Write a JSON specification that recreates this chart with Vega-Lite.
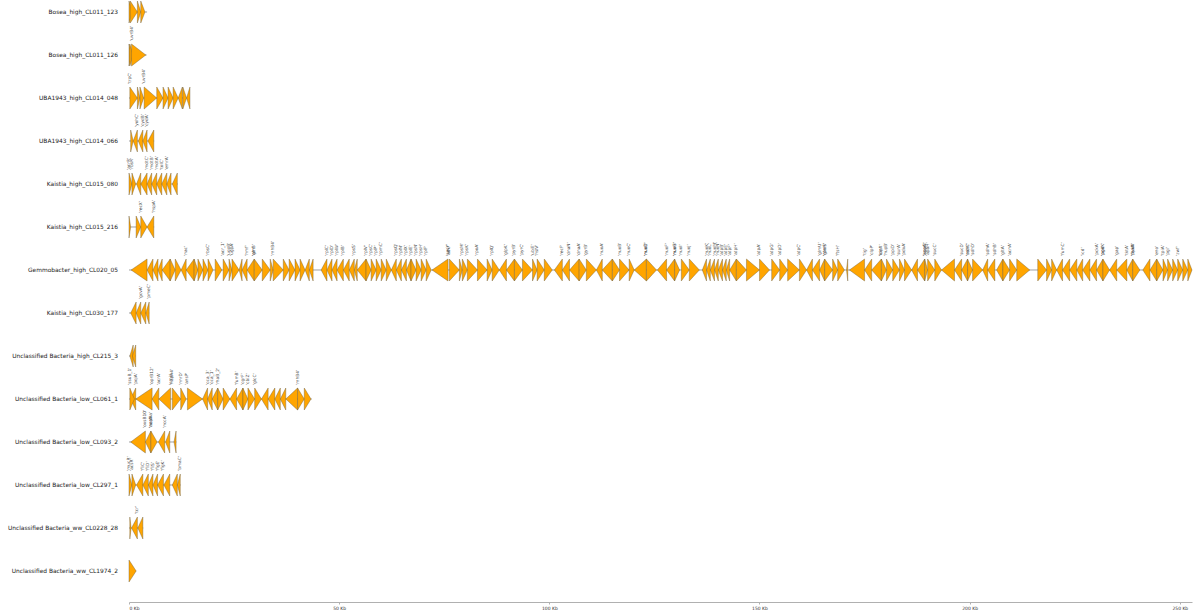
{
"$schema": "https://vega.github.io/schema/vega-lite/v6.json",
"background": "white",
"padding": {"left": 7, "top": 0, "right": 4, "bottom": 4},
"bounds": "flush",
"config": {"view": {"stroke": null}, "font": "DejaVu Sans"},
"data": {"values": [
{"c":"Bosea_high_CL011_123","k":"contig","f":0,"t":4.3},
{"c":"Bosea_high_CL011_126","k":"contig","f":0,"t":4.2},
{"c":"UBA1943_high_CL014_048","k":"contig","f":0,"t":14.5},
{"c":"UBA1943_high_CL014_066","k":"contig","f":0,"t":6.0},
{"c":"Kaistia_high_CL015_080","k":"contig","f":0,"t":11.6},
{"c":"Kaistia_high_CL015_216","k":"contig","f":0,"t":6.0},
{"c":"Gemmobacter_high_CL020_05","k":"contig","f":0,"t":252.9},
{"c":"Kaistia_high_CL030_177","k":"contig","f":0,"t":4.8},
{"c":"Unclassified Bacteria_high_CL215_3","k":"contig","f":0,"t":1.6},
{"c":"Unclassified Bacteria_low_CL061_1","k":"contig","f":0,"t":43.5},
{"c":"Unclassified Bacteria_low_CL093_2","k":"contig","f":0,"t":11.3},
{"c":"Unclassified Bacteria_low_CL297_1","k":"contig","f":0,"t":12.3},
{"c":"Unclassified Bacteria_ww_CL0228_28","k":"contig","f":0,"t":3.4},
{"c":"Unclassified Bacteria_ww_CL1974_2","k":"contig","f":0,"t":1.7},

{"c":"Bosea_high_CL011_123","f":0,"t":0.8},
{"c":"Bosea_high_CL011_123","f":0.3,"t":2.0},
{"c":"Bosea_high_CL011_123","f":2.0,"t":2.8},
{"c":"Bosea_high_CL011_123","f":2.8,"t":3.8},

{"c":"Bosea_high_CL011_126","f":0,"t":0.6},
{"c":"Bosea_high_CL011_126","f":0.2,"t":1.0},
{"c":"Bosea_high_CL011_126","f":0.6,"t":4.0,"n":"'uvrB4'"},

{"c":"UBA1943_high_CL014_048","f":0.2,"t":2.0,"n":"'trpC'"},
{"c":"UBA1943_high_CL014_048","f":2.0,"t":2.6},
{"c":"UBA1943_high_CL014_048","f":2.6,"t":3.5},
{"c":"UBA1943_high_CL014_048","f":3.6,"t":6.6,"n":"'uvrB4'"},
{"c":"UBA1943_high_CL014_048","f":6.6,"t":8.1},
{"c":"UBA1943_high_CL014_048","f":8.1,"t":9.3},
{"c":"UBA1943_high_CL014_048","f":9.3,"t":10.5},
{"c":"UBA1943_high_CL014_048","f":10.5,"t":11.7},
{"c":"UBA1943_high_CL014_048","f":12.7,"t":11.7},
{"c":"UBA1943_high_CL014_048","f":12.8,"t":13.7},
{"c":"UBA1943_high_CL014_048","f":14.5,"t":13.7},

{"c":"UBA1943_high_CL014_066","f":0.4,"t":1.0},
{"c":"UBA1943_high_CL014_066","f":2.0,"t":1.0,"n":"'yohC'"},
{"c":"UBA1943_high_CL014_066","f":3.3,"t":2.2,"n":"'cydB'"},
{"c":"UBA1943_high_CL014_066","f":4.3,"t":3.3,"n":"'cydA'"},
{"c":"UBA1943_high_CL014_066","f":5.9,"t":4.5},

{"c":"Kaistia_high_CL015_080","f":0,"t":0.7,"n":"'acrR'"},
{"c":"Kaistia_high_CL015_080","f":0.7,"t":1.6,"n":"'rbsR'"},
{"c":"Kaistia_high_CL015_080","f":2.8,"t":1.8},
{"c":"Kaistia_high_CL015_080","f":4.3,"t":2.8,"n":"'mdtC'"},
{"c":"Kaistia_high_CL015_080","f":5.4,"t":4.3,"n":"'mdtB'"},
{"c":"Kaistia_high_CL015_080","f":6.6,"t":5.4,"n":"'mdtA'"},
{"c":"Kaistia_high_CL015_080","f":7.8,"t":6.6,"n":"'tolC'"},
{"c":"Kaistia_high_CL015_080","f":9.0,"t":7.8,"n":"'emrA'"},
{"c":"Kaistia_high_CL015_080","f":10.0,"t":9.0},
{"c":"Kaistia_high_CL015_080","f":11.5,"t":10.3},

{"c":"Kaistia_high_CL015_216","f":0,"t":0.4},
{"c":"Kaistia_high_CL015_216","f":1.7,"t":2.8},
{"c":"Kaistia_high_CL015_216","f":2.8,"t":4.3,"n":"'recX'"},
{"c":"Kaistia_high_CL015_216","f":5.9,"t":4.3,"n":"'hspA'"},

{"c":"Gemmobacter_high_CL020_05","f":4.3,"t":0.5},
{"c":"Gemmobacter_high_CL020_05","f":5.7,"t":4.3},
{"c":"Gemmobacter_high_CL020_05","f":6.9,"t":5.7},
{"c":"Gemmobacter_high_CL020_05","f":7.9,"t":6.9},
{"c":"Gemmobacter_high_CL020_05","f":9.8,"t":7.9},
{"c":"Gemmobacter_high_CL020_05","f":9.8,"t":11.0},
{"c":"Gemmobacter_high_CL020_05","f":11.0,"t":12.4},
{"c":"Gemmobacter_high_CL020_05","f":13.6,"t":12.4,"n":"'nac'"},
{"c":"Gemmobacter_high_CL020_05","f":15.5,"t":13.6},
{"c":"Gemmobacter_high_CL020_05","f":15.5,"t":16.4},
{"c":"Gemmobacter_high_CL020_05","f":16.4,"t":17.6},
{"c":"Gemmobacter_high_CL020_05","f":17.6,"t":18.8},
{"c":"Gemmobacter_high_CL020_05","f":18.8,"t":20.0,"n":"'rbsC'"},
{"c":"Gemmobacter_high_CL020_05","f":20.5,"t":22.1},
{"c":"Gemmobacter_high_CL020_05","f":22.4,"t":23.8,"n":"'acr_1'"},
{"c":"Gemmobacter_high_CL020_05","f":23.8,"t":24.5,"n":"'ugpB'"},
{"c":"Gemmobacter_high_CL020_05","f":24.5,"t":26.2,"n":"'ugpA'"},
{"c":"Gemmobacter_high_CL020_05","f":26.9,"t":26.2},
{"c":"Gemmobacter_high_CL020_05","f":28.1,"t":26.9,"n":"'hmf'"},
{"c":"Gemmobacter_high_CL020_05","f":29.8,"t":28.1,"n":"'ahr'"},
{"c":"Gemmobacter_high_CL020_05","f":29.8,"t":31.7,"n":"'glnB'"},
{"c":"Gemmobacter_high_CL020_05","f":31.7,"t":33.6},
{"c":"Gemmobacter_high_CL020_05","f":33.6,"t":34.3},
{"c":"Gemmobacter_high_CL020_05","f":34.3,"t":36.7,"n":"'rnhB4'"},
{"c":"Gemmobacter_high_CL020_05","f":36.7,"t":38.1},
{"c":"Gemmobacter_high_CL020_05","f":38.1,"t":39.5},
{"c":"Gemmobacter_high_CL020_05","f":39.5,"t":40.7},
{"c":"Gemmobacter_high_CL020_05","f":40.7,"t":41.9},
{"c":"Gemmobacter_high_CL020_05","f":42.9,"t":41.9},
{"c":"Gemmobacter_high_CL020_05","f":43.8,"t":42.9},
{"c":"Gemmobacter_high_CL020_05","f":47.1,"t":45.7,"n":"'rplC'"},
{"c":"Gemmobacter_high_CL020_05","f":48.3,"t":47.1,"n":"'rplD'"},
{"c":"Gemmobacter_high_CL020_05","f":49.5,"t":48.3,"n":"'rplW'"},
{"c":"Gemmobacter_high_CL020_05","f":51.0,"t":49.5,"n":"'rplB'"},
{"c":"Gemmobacter_high_CL020_05","f":52.4,"t":51.0},
{"c":"Gemmobacter_high_CL020_05","f":53.6,"t":52.4,"n":"'rpsS'"},
{"c":"Gemmobacter_high_CL020_05","f":54.3,"t":53.6},
{"c":"Gemmobacter_high_CL020_05","f":56.4,"t":54.3,"n":"'rplV'"},
{"c":"Gemmobacter_high_CL020_05","f":56.4,"t":57.6},
{"c":"Gemmobacter_high_CL020_05","f":57.6,"t":58.8,"n":"'rpsC'"},
{"c":"Gemmobacter_high_CL020_05","f":58.8,"t":60.0,"n":"'rplP'"},
{"c":"Gemmobacter_high_CL020_05","f":60.0,"t":61.2,"n":"'rpmC'"},
{"c":"Gemmobacter_high_CL020_05","f":61.2,"t":62.4},
{"c":"Gemmobacter_high_CL020_05","f":63.6,"t":62.4,"n":"'rpsQ'"},
{"c":"Gemmobacter_high_CL020_05","f":64.8,"t":63.6,"n":"'rplN'"},
{"c":"Gemmobacter_high_CL020_05","f":66.0,"t":64.8,"n":"'rplX'"},
{"c":"Gemmobacter_high_CL020_05","f":67.1,"t":66.0},
{"c":"Gemmobacter_high_CL020_05","f":67.1,"t":68.3,"n":"'rplE'"},
{"c":"Gemmobacter_high_CL020_05","f":68.3,"t":69.5,"n":"'rpsN'"},
{"c":"Gemmobacter_high_CL020_05","f":69.5,"t":70.7,"n":"'rpsH'"},
{"c":"Gemmobacter_high_CL020_05","f":70.7,"t":71.9,"n":"'rplF'"},
{"c":"Gemmobacter_high_CL020_05","f":75.9,"t":72.1,"n":"'secY'"},
{"c":"Gemmobacter_high_CL020_05","f":76.2,"t":78.6,"n":"'adk'"},
{"c":"Gemmobacter_high_CL020_05","f":78.6,"t":79.3},
{"c":"Gemmobacter_high_CL020_05","f":79.3,"t":80.5,"n":"'rpsM'"},
{"c":"Gemmobacter_high_CL020_05","f":80.5,"t":82.9,"n":"'rpsK'"},
{"c":"Gemmobacter_high_CL020_05","f":82.9,"t":85.2,"n":"'rpoA'"},
{"c":"Gemmobacter_high_CL020_05","f":85.2,"t":86.4},
{"c":"Gemmobacter_high_CL020_05","f":86.4,"t":88.1,"n":"'rplQ'"},
{"c":"Gemmobacter_high_CL020_05","f":89.8,"t":88.1,"n":"'glpK'"},
{"c":"Gemmobacter_high_CL020_05","f":91.7,"t":89.8},
{"c":"Gemmobacter_high_CL020_05","f":91.7,"t":93.6,"n":"'pyrB'"},
{"c":"Gemmobacter_high_CL020_05","f":93.6,"t":96.0,"n":"'pyrC'"},
{"c":"Gemmobacter_high_CL020_05","f":96.0,"t":97.1,"n":"'ubiE'"},
{"c":"Gemmobacter_high_CL020_05","f":97.1,"t":98.8,"n":"'hslV'"},
{"c":"Gemmobacter_high_CL020_05","f":98.8,"t":100.7},
{"c":"Gemmobacter_high_CL020_05","f":103.1,"t":101.2,"n":"'recF'"},
{"c":"Gemmobacter_high_CL020_05","f":104.8,"t":103.1,"n":"'dnaN'"},
{"c":"Gemmobacter_high_CL020_05","f":107.1,"t":104.8,"n":"'dnaA'"},
{"c":"Gemmobacter_high_CL020_05","f":107.1,"t":108.8},
{"c":"Gemmobacter_high_CL020_05","f":108.8,"t":111.2,"n":"'gyrB'"},
{"c":"Gemmobacter_high_CL020_05","f":112.6,"t":111.2,"n":"'nuoA'"},
{"c":"Gemmobacter_high_CL020_05","f":115.0,"t":112.6},
{"c":"Gemmobacter_high_CL020_05","f":115.0,"t":116.7},
{"c":"Gemmobacter_high_CL020_05","f":116.7,"t":119.0,"n":"'nuoB'"},
{"c":"Gemmobacter_high_CL020_05","f":119.0,"t":120.2,"n":"'nuoC'"},
{"c":"Gemmobacter_high_CL020_05","f":123.1,"t":120.2,"n":"'nuoD'"},
{"c":"Gemmobacter_high_CL020_05","f":123.1,"t":125.5,"n":"'nuoE'"},
{"c":"Gemmobacter_high_CL020_05","f":127.9,"t":125.7,"n":"'nuoF'"},
{"c":"Gemmobacter_high_CL020_05","f":129.8,"t":127.9,"n":"'nuoG'"},
{"c":"Gemmobacter_high_CL020_05","f":129.8,"t":131.0,"n":"'nuoH'"},
{"c":"Gemmobacter_high_CL020_05","f":131.4,"t":133.3,"n":"'nuoI'"},
{"c":"Gemmobacter_high_CL020_05","f":133.3,"t":135.7,"n":"'nuoJ'"},
{"c":"Gemmobacter_high_CL020_05","f":137.4,"t":136.4,"n":"'nuoK'"},
{"c":"Gemmobacter_high_CL020_05","f":138.3,"t":137.4,"n":"'nuoL'"},
{"c":"Gemmobacter_high_CL020_05","f":139.3,"t":138.3,"n":"'nuoM'"},
{"c":"Gemmobacter_high_CL020_05","f":140.2,"t":139.3,"n":"'nuoN'"},
{"c":"Gemmobacter_high_CL020_05","f":141.2,"t":140.2,"n":"'atpB'"},
{"c":"Gemmobacter_high_CL020_05","f":142.1,"t":141.2,"n":"'atpE'"},
{"c":"Gemmobacter_high_CL020_05","f":142.9,"t":142.1,"n":"'atpF'"},
{"c":"Gemmobacter_high_CL020_05","f":144.5,"t":142.9},
{"c":"Gemmobacter_high_CL020_05","f":144.5,"t":146.9,"n":"'atpH'"},
{"c":"Gemmobacter_high_CL020_05","f":146.9,"t":150.0},
{"c":"Gemmobacter_high_CL020_05","f":150.0,"t":152.4,"n":"'atpA'"},
{"c":"Gemmobacter_high_CL020_05","f":152.9,"t":154.8,"n":"'atpG'"},
{"c":"Gemmobacter_high_CL020_05","f":154.8,"t":156.7,"n":"'atpD'"},
{"c":"Gemmobacter_high_CL020_05","f":156.7,"t":159.5},
{"c":"Gemmobacter_high_CL020_05","f":159.5,"t":161.2,"n":"'atpC'"},
{"c":"Gemmobacter_high_CL020_05","f":162.6,"t":161.2},
{"c":"Gemmobacter_high_CL020_05","f":164.3,"t":162.6,"n":"'glmU'"},
{"c":"Gemmobacter_high_CL020_05","f":165.5,"t":164.3,"n":"'glmS'"},
{"c":"Gemmobacter_high_CL020_05","f":165.5,"t":167.4,"n":"'rpoH'"},
{"c":"Gemmobacter_high_CL020_05","f":167.4,"t":168.6},
{"c":"Gemmobacter_high_CL020_05","f":168.6,"t":170.2,"n":"'ftsH'"},
{"c":"Gemmobacter_high_CL020_05","f":171.0,"t":170.7},
{"c":"Gemmobacter_high_CL020_05","f":175.0,"t":171.4,"n":"'tig'"},
{"c":"Gemmobacter_high_CL020_05","f":176.7,"t":175.0,"n":"'clpP'"},
{"c":"Gemmobacter_high_CL020_05","f":179.0,"t":176.7,"n":"'clpX'"},
{"c":"Gemmobacter_high_CL020_05","f":179.0,"t":180.2,"n":"'lon'"},
{"c":"Gemmobacter_high_CL020_05","f":180.2,"t":181.7,"n":"'hupB'"},
{"c":"Gemmobacter_high_CL020_05","f":181.7,"t":183.3,"n":"'ppiD'"},
{"c":"Gemmobacter_high_CL020_05","f":183.3,"t":184.5,"n":"'surA'"},
{"c":"Gemmobacter_high_CL020_05","f":184.5,"t":186.2,"n":"'pdxA'"},
{"c":"Gemmobacter_high_CL020_05","f":187.6,"t":186.2},
{"c":"Gemmobacter_high_CL020_05","f":189.3,"t":187.6,"n":"'ksgA'"},
{"c":"Gemmobacter_high_CL020_05","f":189.3,"t":190.0,"n":"'apaG'"},
{"c":"Gemmobacter_high_CL020_05","f":190.0,"t":191.7,"n":"'apaH'"},
{"c":"Gemmobacter_high_CL020_05","f":191.7,"t":193.3,"n":"'sucC'"},
{"c":"Gemmobacter_high_CL020_05","f":196.4,"t":193.3},
{"c":"Gemmobacter_high_CL020_05","f":198.1,"t":196.4,"n":"'sucD'"},
{"c":"Gemmobacter_high_CL020_05","f":199.5,"t":198.1,"n":"'mdh'"},
{"c":"Gemmobacter_high_CL020_05","f":199.5,"t":200.7,"n":"'sdhC'"},
{"c":"Gemmobacter_high_CL020_05","f":200.7,"t":203.1,"n":"'sdhD'"},
{"c":"Gemmobacter_high_CL020_05","f":204.3,"t":203.1,"n":"'sdhA'"},
{"c":"Gemmobacter_high_CL020_05","f":206.0,"t":204.3,"n":"'sdhB'"},
{"c":"Gemmobacter_high_CL020_05","f":207.9,"t":206.4},
{"c":"Gemmobacter_high_CL020_05","f":207.9,"t":209.5,"n":"'gltA'"},
{"c":"Gemmobacter_high_CL020_05","f":209.5,"t":211.2,"n":"'acnA'"},
{"c":"Gemmobacter_high_CL020_05","f":211.2,"t":214.3},
{"c":"Gemmobacter_high_CL020_05","f":216.2,"t":218.3},
{"c":"Gemmobacter_high_CL020_05","f":218.3,"t":219.5},
{"c":"Gemmobacter_high_CL020_05","f":219.5,"t":220.7},
{"c":"Gemmobacter_high_CL020_05","f":222.1,"t":220.7,"n":"'fumC'"},
{"c":"Gemmobacter_high_CL020_05","f":223.8,"t":222.1},
{"c":"Gemmobacter_high_CL020_05","f":225.5,"t":223.8},
{"c":"Gemmobacter_high_CL020_05","f":226.9,"t":225.5,"n":"'icd'"},
{"c":"Gemmobacter_high_CL020_05","f":228.6,"t":226.9},
{"c":"Gemmobacter_high_CL020_05","f":230.2,"t":228.6,"n":"'pckA'"},
{"c":"Gemmobacter_high_CL020_05","f":231.7,"t":230.2,"n":"'ppdK'"},
{"c":"Gemmobacter_high_CL020_05","f":231.7,"t":233.3,"n":"'pgk'"},
{"c":"Gemmobacter_high_CL020_05","f":235.0,"t":233.3,"n":"'gap'"},
{"c":"Gemmobacter_high_CL020_05","f":237.4,"t":235.0,"n":"'tktA'"},
{"c":"Gemmobacter_high_CL020_05","f":238.8,"t":237.4,"n":"'fbaA'"},
{"c":"Gemmobacter_high_CL020_05","f":238.8,"t":240.5,"n":"'pykA'"},
{"c":"Gemmobacter_high_CL020_05","f":242.9,"t":241.2},
{"c":"Gemmobacter_high_CL020_05","f":244.5,"t":242.9},
{"c":"Gemmobacter_high_CL020_05","f":244.5,"t":246.0,"n":"'eno'"},
{"c":"Gemmobacter_high_CL020_05","f":246.0,"t":247.1,"n":"'tpiA'"},
{"c":"Gemmobacter_high_CL020_05","f":247.1,"t":248.3,"n":"'pgi'"},
{"c":"Gemmobacter_high_CL020_05","f":248.3,"t":249.5},
{"c":"Gemmobacter_high_CL020_05","f":249.5,"t":250.7,"n":"'zwf'"},
{"c":"Gemmobacter_high_CL020_05","f":250.7,"t":251.9},
{"c":"Gemmobacter_high_CL020_05","f":251.9,"t":252.9},

{"c":"Kaistia_high_CL030_177","f":1.7,"t":0.4},
{"c":"Kaistia_high_CL030_177","f":2.8,"t":1.7,"n":"'gcvA'"},
{"c":"Kaistia_high_CL030_177","f":4.0,"t":2.8},
{"c":"Kaistia_high_CL030_177","f":4.8,"t":4.0,"n":"'pmeC'"},

{"c":"Unclassified Bacteria_high_CL215_3","f":1.0,"t":0.2},
{"c":"Unclassified Bacteria_high_CL215_3","f":1.6,"t":0.8},

{"c":"Unclassified Bacteria_low_CL061_1","f":1.6,"t":0.4,"n":"'pqiA'"},
{"c":"Unclassified Bacteria_low_CL061_1","f":0.2,"t":1.3,"n":"'ssuB_1'"},
{"c":"Unclassified Bacteria_low_CL061_1","f":5.5,"t":1.6,"n":"'oprB12'"},
{"c":"Unclassified Bacteria_low_CL061_1","f":7.1,"t":5.5,"n":"'acrA'"},
{"c":"Unclassified Bacteria_low_CL061_1","f":9.9,"t":7.1,"n":"'cmk'"},
{"c":"Unclassified Bacteria_low_CL061_1","f":10.3,"t":12.3,"n":"'napA4'"},
{"c":"Unclassified Bacteria_low_CL061_1","f":12.3,"t":13.6,"n":"'nnrD'"},
{"c":"Unclassified Bacteria_low_CL061_1","f":13.9,"t":17.5,"n":"'ansP'"},
{"c":"Unclassified Bacteria_low_CL061_1","f":18.7,"t":17.5,"n":"'cca_3'"},
{"c":"Unclassified Bacteria_low_CL061_1","f":19.8,"t":18.7,"n":"'cca_1'"},
{"c":"Unclassified Bacteria_low_CL061_1","f":21.1,"t":19.8},
{"c":"Unclassified Bacteria_low_CL061_1","f":21.1,"t":22.4,"n":"'rhaB_2'"},
{"c":"Unclassified Bacteria_low_CL061_1","f":22.4,"t":24.0},
{"c":"Unclassified Bacteria_low_CL061_1","f":25.6,"t":24.0,"n":"'fumB'"},
{"c":"Unclassified Bacteria_low_CL061_1","f":27.1,"t":25.6,"n":"'cgrF'"},
{"c":"Unclassified Bacteria_low_CL061_1","f":27.1,"t":28.3},
{"c":"Unclassified Bacteria_low_CL061_1","f":28.3,"t":29.9,"n":"'cbiZ'"},
{"c":"Unclassified Bacteria_low_CL061_1","f":29.9,"t":31.5,"n":"'glcC'"},
{"c":"Unclassified Bacteria_low_CL061_1","f":33.1,"t":31.5},
{"c":"Unclassified Bacteria_low_CL061_1","f":34.7,"t":33.1},
{"c":"Unclassified Bacteria_low_CL061_1","f":36.0,"t":34.7},
{"c":"Unclassified Bacteria_low_CL061_1","f":37.3,"t":36.0},
{"c":"Unclassified Bacteria_low_CL061_1","f":40.1,"t":37.3,"n":"'rnhB4'"},
{"c":"Unclassified Bacteria_low_CL061_1","f":40.1,"t":41.7},
{"c":"Unclassified Bacteria_low_CL061_1","f":41.7,"t":43.3},

{"c":"Unclassified Bacteria_low_CL093_2","f":3.9,"t":0.4,"n":"'oxsB10'"},
{"c":"Unclassified Bacteria_low_CL093_2","f":5.2,"t":3.9,"n":"'acrA'"},
{"c":"Unclassified Bacteria_low_CL093_2","f":5.2,"t":6.7,"n":"'napAa'"},
{"c":"Unclassified Bacteria_low_CL093_2","f":8.5,"t":7.0,"n":"'nccA'"},
{"c":"Unclassified Bacteria_low_CL093_2","f":9.7,"t":8.7},
{"c":"Unclassified Bacteria_low_CL093_2","f":11.2,"t":10.7},

{"c":"Unclassified Bacteria_low_CL297_1","f":0,"t":0.7,"n":"'mucR'"},
{"c":"Unclassified Bacteria_low_CL297_1","f":0.7,"t":1.6,"n":"'acsR'"},
{"c":"Unclassified Bacteria_low_CL297_1","f":3.3,"t":1.8,"n":"'fliC'"},
{"c":"Unclassified Bacteria_low_CL297_1","f":4.6,"t":3.3,"n":"'fliD'"},
{"c":"Unclassified Bacteria_low_CL297_1","f":5.7,"t":4.6,"n":"'fliS'"},
{"c":"Unclassified Bacteria_low_CL297_1","f":6.8,"t":5.7,"n":"'flgE'"},
{"c":"Unclassified Bacteria_low_CL297_1","f":8.2,"t":6.8,"n":"'flgK'"},
{"c":"Unclassified Bacteria_low_CL297_1","f":9.7,"t":8.3},
{"c":"Unclassified Bacteria_low_CL297_1","f":11.5,"t":10.3},
{"c":"Unclassified Bacteria_low_CL297_1","f":12.2,"t":11.5,"n":"'bmaC'"},

{"c":"Unclassified Bacteria_ww_CL0228_28","f":0.2,"t":0.5},
{"c":"Unclassified Bacteria_ww_CL0228_28","f":2.0,"t":0.6,"n":"'tcr'"},
{"c":"Unclassified Bacteria_ww_CL0228_28","f":3.3,"t":2.1},

{"c":"Unclassified Bacteria_ww_CL1974_2","f":0,"t":1.7}
]},
"transform": [
  {"fold": ["f", "t"], "as": ["end", "pos"]},
  {"lookup": "end", "from": {"data": {"values": [{"end": "f", "h": 1, "hn": -1}, {"end": "t", "h": 0, "hn": 0}]}, "key": "end", "fields": ["h", "hn"]}}
],
"spacing": 0,
"facet": {"row": {"field": "c", "type": "nominal", "header": {"labels": false, "title": null},
  "sort": ["Bosea_high_CL011_123","Bosea_high_CL011_126","UBA1943_high_CL014_048","UBA1943_high_CL014_066","Kaistia_high_CL015_080","Kaistia_high_CL015_216","Gemmobacter_high_CL020_05","Kaistia_high_CL030_177","Unclassified Bacteria_high_CL215_3","Unclassified Bacteria_low_CL061_1","Unclassified Bacteria_low_CL093_2","Unclassified Bacteria_low_CL297_1","Unclassified Bacteria_ww_CL0228_28","Unclassified Bacteria_ww_CL1974_2"]}},
"spec": {
  "width": 1063,
  "height": 42.5,
  "layer": [
    {"transform": [{"filter": "datum.k === 'contig' && datum.end === 'f'"}],
     "mark": {"type": "rule", "color": "#a0a0a0", "strokeWidth": 1},
     "encoding": {
       "x": {"field": "f", "type": "quantitative", "scale": {"domain": [0, 252.9], "nice": false, "zero": false},
             "axis": {"values": [0, 50, 100, 150, 200, 250], "labelExpr": "datum.value + ' Kb'", "title": null, "grid": false,
                      "domainColor": "#b0b0b0", "tickColor": "#b0b0b0", "tickSize": 2, "labelFontSize": 4.5, "labelColor": "#333", "offset": 0, "labelPadding": 1}},
       "x2": {"field": "t"},
       "y": {"datum": 0, "type": "quantitative", "scale": {"domain": [-2.773, 1.091], "nice": false, "zero": false}, "axis": null}
     }},
    {"transform": [{"filter": "datum.k === 'contig' && datum.end === 'f'"}],
     "mark": {"type": "text", "align": "right", "baseline": "middle", "dx": -11, "fontSize": 5.9, "color": "#222"},
     "encoding": {
       "text": {"field": "c"},
       "x": {"datum": 0, "type": "quantitative"},
       "y": {"datum": 0, "type": "quantitative"}
     }},
    {"transform": [{"filter": "datum.k !== 'contig'"}],
     "mark": {"type": "area", "orient": "vertical", "fill": "#ffa500", "stroke": "#6a5a3a", "strokeWidth": 0.4},
     "encoding": {
       "x": {"field": "pos", "type": "quantitative"},
       "y": {"field": "h", "type": "quantitative"},
       "y2": {"field": "hn"},
       "detail": [{"field": "f"}, {"field": "t"}]
     }},
    {"transform": [{"filter": "datum.n && datum.end === 'f'"}],
     "mark": {"type": "text", "angle": 270, "align": "left", "baseline": "middle", "dx": 3, "fontSize": 4.3, "color": "#444"},
     "encoding": {
       "text": {"field": "n"},
       "x": {"field": "f", "type": "quantitative"},
       "x2": {"field": "t"},
       "y": {"datum": 1, "type": "quantitative"}
     }}
  ]
}
}
